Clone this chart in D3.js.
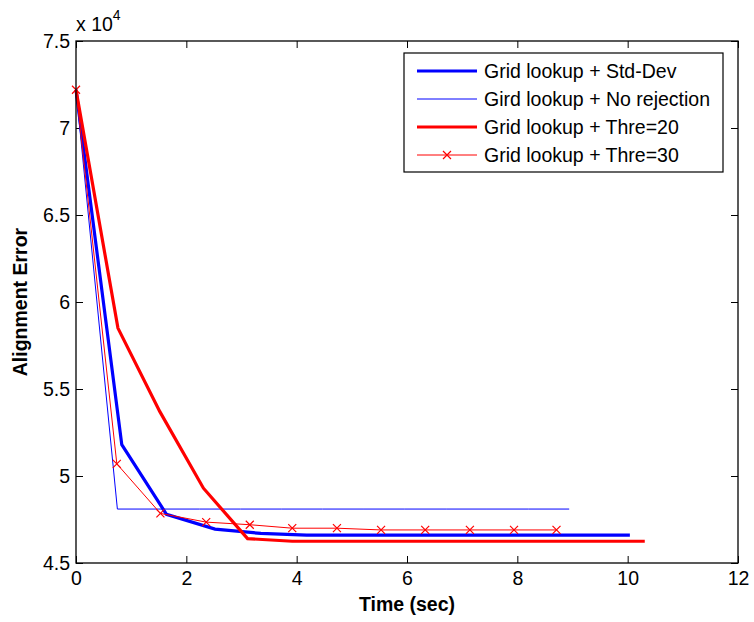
<!DOCTYPE html>
<html>
<head>
<meta charset="utf-8">
<script src="https://cdn.jsdelivr.net/npm/d3@7"></script>
<style>
  html, body { margin: 0; padding: 0; background: #fff; }
  svg { display: block; font-family: "Liberation Sans", Arial, Helvetica, sans-serif; }
</style>
</head>
<body>
<div id="chart"></div>
<script>
// ---- data (alignment error vs. time) ----
const stdDevX  = [0, 0.83, 1.64, 2.52, 3.35, 4.18, 5.02, 5.85, 6.69, 7.53, 8.36, 9.20, 10.04];
const stdDevY  = [72200, 51800, 47800, 46950, 46700, 46600, 46600, 46600, 46600, 46600, 46600, 46600, 46600];

const noRejX   = [0, 0.75, 1.49, 2.24, 2.98, 3.73, 4.47, 5.22, 5.96, 6.71, 7.45, 8.20, 8.94];
const noRejY   = [72200, 48100, 48100, 48100, 48100, 48100, 48100, 48100, 48100, 48100, 48100, 48100, 48100];

const thre20X  = [0, 0.76, 1.52, 2.31, 3.11, 3.92, 4.72, 5.52, 6.33, 7.13, 7.93, 8.73, 9.53, 10.31];
const thre20Y  = [72200, 58500, 53700, 49300, 46400, 46250, 46250, 46250, 46250, 46250, 46250, 46250, 46250, 46250];

const thre30X  = [0, 0.74, 1.53, 2.36, 3.15, 3.92, 4.73, 5.53, 6.33, 7.14, 7.94, 8.71];
const thre30Y  = [72200, 50700, 47850, 47350, 47200, 47000, 47000, 46900, 46900, 46900, 46900, 46900];

const seriesNames = ["Grid lookup + Std-Dev", "Gird lookup + No rejection", "Grid lookup + Thre=20", "Grid lookup + Thre=30"];

const xTicks = [0, 2, 4, 6, 8, 10, 12];
const yTicks = [45000, 50000, 55000, 60000, 65000, 70000, 75000];
const yTickLabels = ["4.5", "5", "5.5", "6", "6.5", "7", "7.5"];

// ---- layout ----
const W = 754, H = 622;
const L = 76, R = 738, T = 41, B = 563;
const FONT = 19.5;

const svg = d3.select("#chart").append("svg").attr("width", W).attr("height", H);

const x = d3.scaleLinear().domain([0, 12]).range([L, R]);
const y = d3.scaleLinear().domain([45000, 75000]).range([B, T]);

svg.append("rect").attr("x", L).attr("y", T).attr("width", R - L).attr("height", B - T)
  .attr("fill", "#fff").attr("stroke", "none");

const tickLen = 7;
const xAxis = d3.axisBottom(x).tickValues(xTicks).tickSizeInner(-tickLen).tickSizeOuter(0).tickPadding(8)
  .tickFormat(d3.format("d"));
const gx = svg.append("g").attr("transform", `translate(0,${B})`).call(xAxis);
const gxt = svg.append("g").attr("transform", `translate(0,${T})`)
  .call(d3.axisTop(x).tickValues(xTicks).tickSizeInner(-tickLen).tickSizeOuter(0).tickFormat(""));
const yAxis = d3.axisLeft(y).tickValues(yTicks).tickSizeInner(-tickLen).tickSizeOuter(0).tickPadding(6)
  .tickFormat((d, i) => yTickLabels[i]);
const gy = svg.append("g").attr("transform", `translate(${L},0)`).call(yAxis);
const gyr = svg.append("g").attr("transform", `translate(${R},0)`)
  .call(d3.axisRight(y).tickValues(yTicks).tickSizeInner(-tickLen).tickSizeOuter(0).tickFormat(""));

[gx, gxt, gy, gyr].forEach(g => {
  g.select(".domain").remove();
  g.selectAll("line").attr("stroke", "#000").attr("stroke-width", 1);
  g.selectAll("text").attr("font-size", FONT).attr("fill", "#000")
    .attr("font-family", "'Liberation Sans', Arial, Helvetica, sans-serif");
});

const line = d3.line().x(d => x(d[0])).y(d => y(d[1]));
const zip = (xs, ys) => xs.map((v, i) => [v, ys[i]]);

const series = [
  { name: seriesNames[0], data: zip(stdDevX, stdDevY), color: "#0000ff", width: 3.2, marker: false },
  { name: seriesNames[1], data: zip(noRejX, noRejY), color: "#0000ff", width: 1, marker: false },
  { name: seriesNames[2], data: zip(thre20X, thre20Y), color: "#ff0000", width: 3.2, marker: false },
  { name: seriesNames[3], data: zip(thre30X, thre30Y), color: "#ff0000", width: 1, marker: true }
];

const plot = svg.append("g");
const ms = 4;
function drawCross(g, cx, cy, color) {
  g.append("path")
    .attr("d", `M${cx - ms},${cy - ms}L${cx + ms},${cy + ms}M${cx - ms},${cy + ms}L${cx + ms},${cy - ms}`)
    .attr("stroke", color).attr("stroke-width", 1.2).attr("fill", "none");
}
series.forEach(s => {
  plot.append("path").datum(s.data).attr("d", line)
    .attr("fill", "none").attr("stroke", s.color).attr("stroke-width", s.width)
    .attr("stroke-linejoin", "miter");
  if (s.marker) {
    s.data.forEach(d => drawCross(plot, x(d[0]), y(d[1]), s.color));
  }
});

svg.append("rect").attr("x", L).attr("y", T).attr("width", R - L).attr("height", B - T)
  .attr("fill", "none").attr("stroke", "#000").attr("stroke-width", 1.3);

const ex = svg.append("text").attr("x", L).attr("y", 31).attr("font-size", FONT).attr("fill", "#000");
ex.append("tspan").text("x 10");
ex.append("tspan").attr("font-size", 14).attr("dy", -11).text("4");

svg.append("text").attr("x", (L + R) / 2).attr("y", 611).attr("text-anchor", "middle")
  .attr("font-size", FONT).attr("font-weight", "bold").text("Time (sec)");
svg.append("text").attr("transform", `translate(27,${(T + B) / 2}) rotate(-90)`)
  .attr("text-anchor", "middle").attr("font-size", FONT).attr("font-weight", "bold").text("Alignment Error");

const lg = svg.append("g");
const lx0 = 404, ly0 = 53, lx1 = 723, ly1 = 172;
lg.append("rect").attr("x", lx0).attr("y", ly0).attr("width", lx1 - lx0).attr("height", ly1 - ly0)
  .attr("fill", "#fff").attr("stroke", "#000").attr("stroke-width", 1.2);
const rowY = [71, 99, 127, 155];
series.forEach((s, i) => {
  const yy = rowY[i];
  lg.append("line").attr("x1", 417).attr("x2", 477).attr("y1", yy).attr("y2", yy)
    .attr("stroke", s.color).attr("stroke-width", s.width);
  if (s.marker) drawCross(lg, 447, yy, s.color);
  lg.append("text").attr("x", 484).attr("y", yy).attr("dy", "0.36em")
    .attr("font-size", FONT).attr("fill", "#000").text(s.name);
});
</script>
</body>
</html>
